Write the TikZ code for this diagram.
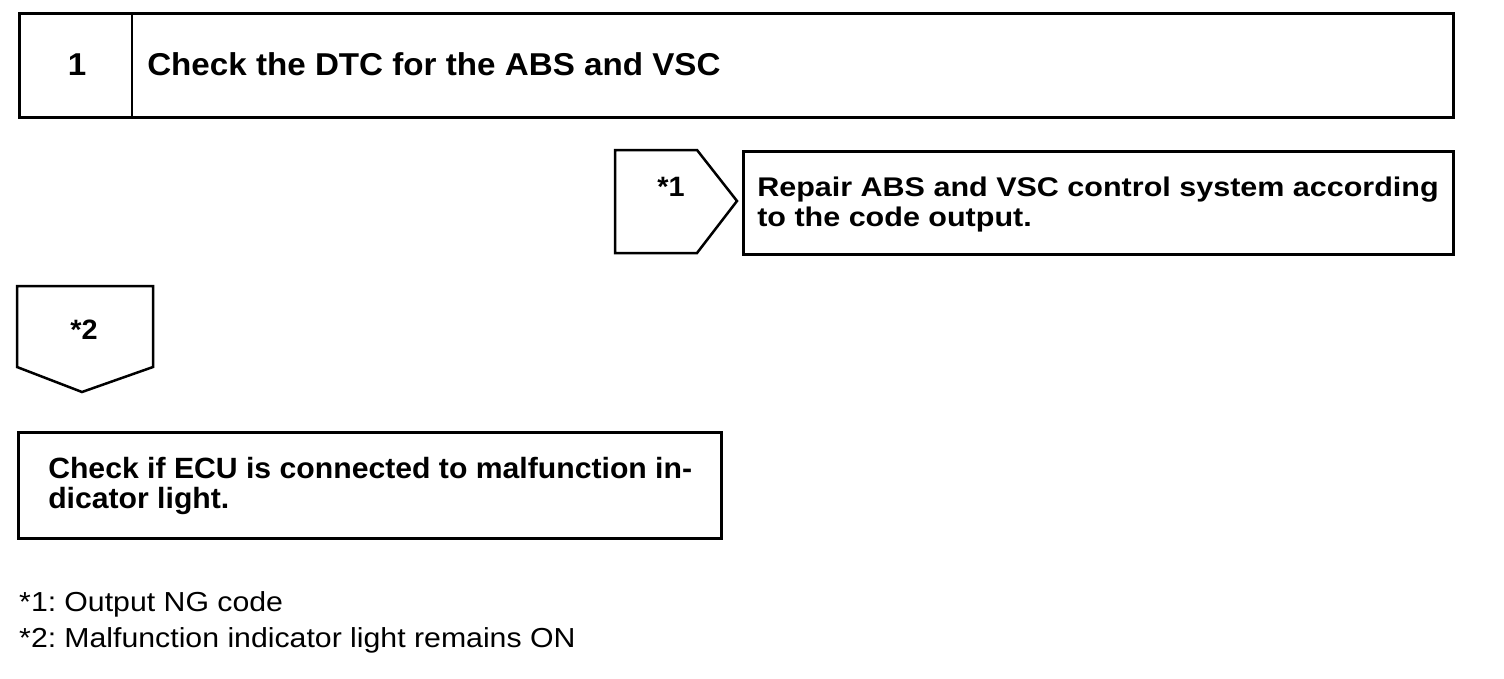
\documentclass[tikz,border=0pt]{standalone}
\usepackage{fontspec}
\setmainfont{Liberation Sans}
\newfontfamily\ftitle[FakeStretch=1.05]{Liberation Sans}
\newfontfamily\frep[FakeStretch=1.13]{Liberation Sans}
\newfontfamily\fecu[FakeStretch=1.03]{Liberation Sans}
\newfontfamily\fnote[FakeStretch=1.1]{Liberation Sans}
\begin{document}
\begin{tikzpicture}[x=1pt,y=-1pt,line width=2.5pt,line join=miter,
  boxnode/.style={draw=black,fill=white,inner sep=0pt,anchor=north west},
  titletext/.style={inner sep=0pt,anchor=base west,font=\ftitle\bfseries\fontsize{31.6}{32}\selectfont},
  reptext/.style={inner sep=0pt,anchor=base west,font=\frep\bfseries\fontsize{27}{30}\selectfont},
  ecutext/.style={inner sep=0pt,anchor=base west,font=\fecu\bfseries\fontsize{29.3}{30}\selectfont},
  marktext/.style={inner sep=0pt,anchor=base,font=\fecu\bfseries\fontsize{28}{30}\selectfont},
  notetext/.style={inner sep=0pt,anchor=base west,font=\fnote\fontsize{27.5}{30}\selectfont}]
\useasboundingbox (0,0) rectangle (1504,678);
% top step box
\node[boxnode,minimum width=1434pt,minimum height=104pt] (top) at (18,12) {};
\coordinate (divt) at (132,12);
\coordinate (divb) at (132,116);
\draw (divt) -- (divb);
\node[titletext,anchor=base] (num) at (77,75) {1};
\node[titletext] (title) at (146,75) {Check the DTC for the ABS and VSC};
% *1 arrow pentagon
\coordinate (p1a) at (615,150);
\coordinate (p1b) at (697,150);
\coordinate (p1c) at (737,201);
\coordinate (p1d) at (697,253);
\coordinate (p1e) at (615,253);
\draw (p1a) -- (p1b) -- (p1c) -- (p1d) -- (p1e) -- cycle;
\node[marktext] (s1) at (671,196) {*1};
% repair box
\node[boxnode,minimum width=710pt,minimum height=103pt] (repair) at (742,150) {};
\node[reptext] (r1) at (756,196) {Repair ABS and VSC control system according};
\node[reptext] (r2) at (756,226) {to the code output.};
% *2 down pentagon
\coordinate (p2a) at (17,286);
\coordinate (p2b) at (153,286);
\coordinate (p2c) at (153,367);
\coordinate (p2d) at (82,392);
\coordinate (p2e) at (17,367);
\draw (p2a) -- (p2b) -- (p2c) -- (p2d) -- (p2e) -- cycle;
\node[marktext] (s2) at (84,339) {*2};
% ECU box
\node[boxnode,minimum width=703pt,minimum height=106pt] (ecu) at (17,431) {};
\node[ecutext] (e1) at (47,478) {Check if ECU is connected to malfunction in-};
\node[ecutext] (e2) at (47,508) {dicator light.};
% notes
\node[notetext] (n1) at (18,611) {*1:\hspace{-3pt} Output NG code};
\node[notetext] (n2) at (18,647) {*2:\hspace{-3pt} Malfunction indicator light remains ON};
\end{tikzpicture}
\end{document}
